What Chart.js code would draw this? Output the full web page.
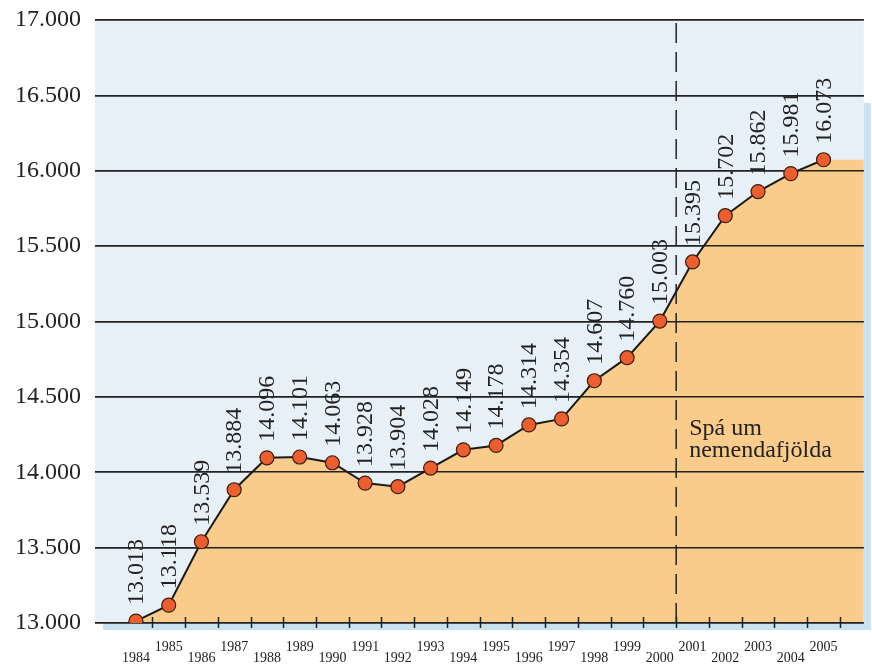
<!DOCTYPE html>
<html>
<head>
<meta charset="utf-8">
<script src="https://cdn.jsdelivr.net/npm/chart.js@4.4.1/dist/chart.umd.min.js"></script>
<style>
  html, body { margin: 0; padding: 0; background: #fff; }
</style>
</head>
<body>
<canvas id="nemChart" width="872" height="667"></canvas>
<script>
const years = [1984, 1985, 1986, 1987, 1988, 1989, 1990, 1991, 1992, 1993, 1994,
               1995, 1996, 1997, 1998, 1999, 2000, 2001, 2002, 2003, 2004, 2005];
const students = [13013, 13118, 13539, 13884, 14096, 14101, 14063, 13928, 13904, 14028, 14149,
                  14178, 14314, 14354, 14607, 14760, 15003, 15395, 15702, 15862, 15981, 16073];
const forecastStart = 2000.5;
const forecastText = ["Spá um", "nemendafjölda"];
const xMin = 1982.75;
const xMax = 2006.23;
const yMin = 13000;
const yMax = 17000;

const serif = "'Liberation Serif', 'DejaVu Serif', serif";
const fmt = v => Math.floor(v / 1000) + "." + String(Math.round(v) % 1000).padStart(3, "0");

const points = years.map((y, i) => ({ x: y, y: students[i] }));
// fill runs flat to the right edge after the last year
const fillPoints = points.concat([{ x: xMax, y: students[students.length - 1] }]);

const decor = {
    id: "decor",
    beforeDraw(chart) {
        const { ctx, chartArea: a } = chart;
        ctx.save();
        ctx.fillStyle = "#c8e2ef";
        ctx.fillRect(a.right, a.top + 83, 7, a.bottom - a.top - 83 + 7);
        ctx.fillRect(a.left + 8, a.bottom, a.right - a.left - 1, 7);
        ctx.fillStyle = "#e7f0f6";
        ctx.fillRect(a.left, a.top, a.right - a.left, a.bottom - a.top);
        ctx.restore();
    },
    afterDatasetDraw(chart, args) {
        // gridlines sit on top of the orange area but under the line
        if (args.index === 0) chart.scales.y.drawGrid(chart.chartArea);
    },
    afterDatasetsDraw(chart) {
        const { ctx, chartArea: a } = chart;
        const xs = chart.scales.x;
        const ys = chart.scales.y;
        ctx.save();

        // small tick marks between years
        ctx.strokeStyle = "#222";
        ctx.lineWidth = 1.5;
        for (let v = years[0] + 0.5; v < years[years.length - 1] + 1; v++) {
            const px = Math.round(xs.getPixelForValue(v)) + 0.5;
            ctx.beginPath();
            ctx.moveTo(px, a.bottom - 6);
            ctx.lineTo(px, a.bottom + 5);
            ctx.stroke();
        }

        // vertical value labels
        const meta = chart.getDatasetMeta(2);
        ctx.fillStyle = "#222";
        ctx.font = "24px " + serif;
        ctx.textAlign = "left";
        ctx.textBaseline = "middle";
        meta.data.forEach((p, i) => {
            ctx.save();
            ctx.translate(p.x + 1, p.y - 16);
            ctx.rotate(-Math.PI / 2);
            ctx.fillText(fmt(students[i]), 0, 0);
            ctx.restore();
        });

        // forecast note
        ctx.font = "24px " + serif;
        ctx.textBaseline = "alphabetic";
        const tx = xs.getPixelForValue(forecastStart) + 13;
        const ty = ys.getPixelForValue(14250);
        forecastText.forEach((t, i) => ctx.fillText(t, tx, ty + i * 22));

        ctx.restore();
    }
};

new Chart(document.getElementById("nemChart"), {
    type: "line",
    data: {
        datasets: [
            {
                data: fillPoints,
                fill: "start",
                backgroundColor: "#f9cc8c",
                borderWidth: 0,
                pointRadius: 0,
                order: 3
            },
            {
                data: [{ x: forecastStart, y: yMin }, { x: forecastStart, y: yMax }],
                borderColor: "#222",
                borderWidth: 1.5,
                borderDash: [20, 9],
                pointRadius: 0,
                fill: false,
                order: 2
            },
            {
                data: points,
                borderColor: "#1a1a1a",
                borderWidth: 2,
                pointRadius: 7,
                pointBackgroundColor: "#ec5e2d",
                pointBorderColor: "#3a1e12",
                pointBorderWidth: 1.2,
                fill: false,
                order: 1
            }
        ]
    },
    options: {
        responsive: false,
        devicePixelRatio: 1,
        animation: false,
        layout: { padding: { top: 20, right: 7, left: 0, bottom: 0 } },
        plugins: { legend: { display: false }, tooltip: { enabled: false } },
        scales: {
            x: {
                type: "linear",
                min: xMin,
                max: xMax,
                afterBuildTicks: s => { s.ticks = years.map(v => ({ value: v })); },
                afterFit: s => { s.height = 44; },
                grid: { display: false, drawTicks: false },
                border: { display: false },
                ticks: {
                    autoSkip: false,
                    maxRotation: 0,
                    padding: 18.5,
                    color: "#222",
                    font: { family: serif, size: 14, lineHeight: 0.79 },
                    callback: v => (v % 2 ? [String(v)] : ["", String(v)])
                }
            },
            y: {
                min: yMin,
                max: yMax,
                afterFit: s => { s.width = 95; s.paddingTop = 0; s.paddingBottom = 0; },
                border: { display: false },
                grid: { color: "#222", lineWidth: 1.6, drawTicks: false },
                ticks: {
                    stepSize: 500,
                    padding: 14,
                    color: "#222",
                    font: { family: serif, size: 24 },
                    callback: v => fmt(v)
                }
            }
        }
    },
    plugins: [decor]
});
</script>
</body>
</html>
